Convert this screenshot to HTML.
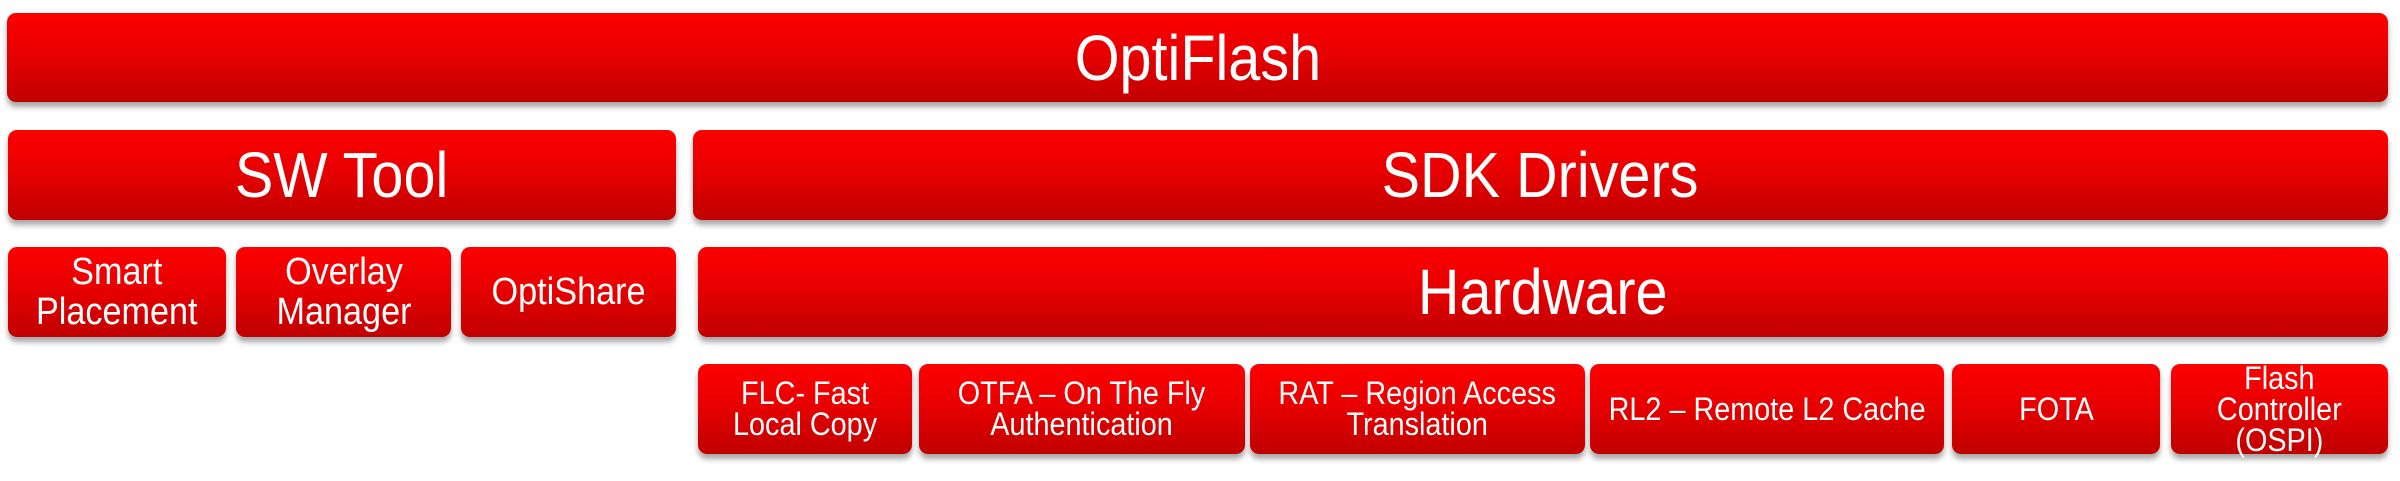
<!DOCTYPE html>
<html><head><meta charset="utf-8"><style>
body{margin:0;width:2400px;height:481px;background:#fff;position:relative;overflow:hidden;font-family:"Liberation Sans",sans-serif;}
.b{position:absolute;border-radius:9px;background:linear-gradient(#fe0000 0%,#e80000 45%,#c00000 100%);box-shadow:0 5px 6px rgba(0,0,0,0.35);color:#fff;display:flex;align-items:center;justify-content:center;text-align:center;}
.b span{display:inline-block;transform:scaleX(0.9);white-space:nowrap;}
.L{font-size:64px;}
.M{font-size:38px;line-height:40px;}
.S{font-size:32px;line-height:31px;}
</style></head><body>
<div class="b L" style="left:7px;top:13px;width:2381px;height:89px"><span>OptiFlash</span></div>
<div class="b L" style="left:8px;top:130px;width:668px;height:90px"><span>SW Tool</span></div>
<div class="b L" style="left:693px;top:130px;width:1695px;height:90px"><span>SDK Drivers</span></div>
<div class="b M" style="left:8px;top:247px;width:218px;height:90px"><span>Smart<br>Placement</span></div>
<div class="b M" style="left:236px;top:247px;width:215px;height:90px"><span>Overlay<br>Manager</span></div>
<div class="b M" style="left:461px;top:247px;width:215px;height:90px"><span>OptiShare</span></div>
<div class="b L" style="left:698px;top:247px;width:1690px;height:90px"><span>Hardware</span></div>
<div class="b S" style="left:698px;top:364px;width:214px;height:90px"><span>FLC- Fast<br>Local Copy</span></div>
<div class="b S" style="left:919px;top:364px;width:326px;height:90px"><span>OTFA – On The Fly<br>Authentication</span></div>
<div class="b S" style="left:1250px;top:364px;width:335px;height:90px"><span>RAT – Region Access<br>Translation</span></div>
<div class="b S" style="left:1590px;top:364px;width:354px;height:90px"><span>RL2 – Remote L2 Cache</span></div>
<div class="b S" style="left:1952px;top:364px;width:208px;height:90px"><span>FOTA</span></div>
<div class="b S" style="left:2171px;top:364px;width:217px;height:90px"><span>Flash<br>Controller<br>(OSPI)</span></div>
</body></html>
